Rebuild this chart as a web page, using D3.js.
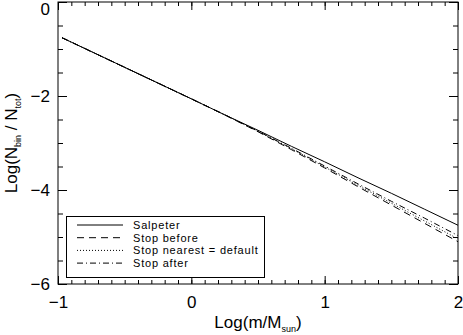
<!DOCTYPE html>
<html>
<head>
<meta charset="utf-8">
<script src="https://cdn.jsdelivr.net/npm/d3@7"></script>
<style>
  body { margin: 0; background: #fff; }
  svg { display: block; font-family: "Liberation Sans", Helvetica, Arial, sans-serif; }
</style>
</head>
<body>
<svg width="463" height="335"></svg>
<script>
const svg = d3.select("svg");

// log mass values (x) and log(Nbin/Ntot) for each run
const logMass     = [-0.97, -0.5, 0, 0.25, 0.5, 0.75, 1, 1.25, 1.5, 1.75, 2];
const salpeter    = [-0.76, -1.39, -2.06, -2.40, -2.73, -3.07, -3.40, -3.74, -4.07, -4.41, -4.75];
const stopBefore  = [-0.76, -1.39, -2.06, -2.40, -2.76, -3.14, -3.53, -3.93, -4.32, -4.71, -5.10];
const stopNearest = [-0.76, -1.39, -2.06, -2.40, -2.75, -3.12, -3.51, -3.90, -4.28, -4.66, -5.04];
const stopAfter   = [-0.76, -1.39, -2.06, -2.40, -2.75, -3.11, -3.49, -3.87, -4.24, -4.60, -4.97];

const seriesNames = ["Salpeter", "Stop before", "Stop nearest = default", "Stop after"];
const seriesDash = ["none", "7,5", "1,2", "6,3,1,3"];
const seriesValues = [salpeter, stopBefore, stopNearest, stopAfter];

const xTicks = [-1, 0, 1, 2];
const yTicks = [0, -2, -4, -6];

const plotL = 58, plotR = 458, plotT = 2, plotB = 284;

const x = d3.scaleLinear().domain([-1, 2]).range([plotL, plotR]);
const y = d3.scaleLinear().domain([-6, 0]).range([plotB, plotT]);

const fmt = d => d < 0 ? "\u2212" + Math.abs(d) : String(d);
const xMinor = d3.range(-10, 21).map(d => d / 10);
const yMinor = d3.range(-12, 1).map(d => d / 2);

function styleAxis(g) {
    g.select(".domain").remove();
    g.selectAll("line").attr("stroke", "#000");
    g.selectAll("text").style("font-size", "17px").attr("fill", "#000");
}

// minor ticks, all four sides, pointing inward
svg.append("g").attr("transform", `translate(0,${plotB})`)
    .call(d3.axisBottom(x).tickValues(xMinor).tickSize(-4).tickFormat(""))
    .call(styleAxis);
svg.append("g").attr("transform", `translate(0,${plotT})`)
    .call(d3.axisTop(x).tickValues(xMinor).tickSize(-4).tickFormat(""))
    .call(styleAxis);
svg.append("g").attr("transform", `translate(${plotL},0)`)
    .call(d3.axisLeft(y).tickValues(yMinor).tickSize(-5).tickFormat(""))
    .call(styleAxis);
svg.append("g").attr("transform", `translate(${plotR},0)`)
    .call(d3.axisRight(y).tickValues(yMinor).tickSize(-5).tickFormat(""))
    .call(styleAxis);

// major ticks with labels
svg.append("g").attr("transform", `translate(0,${plotB})`)
    .call(d3.axisBottom(x).tickValues(xTicks).tickSize(-8).tickPadding(12).tickFormat(fmt))
    .call(styleAxis);
svg.append("g").attr("transform", `translate(0,${plotT})`)
    .call(d3.axisTop(x).tickValues(xTicks).tickSize(-8).tickFormat(""))
    .call(styleAxis);
const yAxisG = svg.append("g").attr("transform", `translate(${plotL},0)`)
    .call(d3.axisLeft(y).tickValues(yTicks).tickSize(-9).tickPadding(8).tickFormat(fmt))
    .call(styleAxis);
// keep the top label inside the picture
yAxisG.selectAll("text").filter(d => d === 0).attr("dy", "0.72em").attr("y", 0);
svg.append("g").attr("transform", `translate(${plotR},0)`)
    .call(d3.axisRight(y).tickValues(yTicks).tickSize(-9).tickFormat(""))
    .call(styleAxis);

svg.append("rect")
    .attr("x", plotL).attr("y", plotT)
    .attr("width", plotR - plotL).attr("height", plotB - plotT)
    .attr("fill", "none").attr("stroke", "#000").attr("stroke-width", 1);

const line = d3.line().x((d, i) => x(logMass[i])).y(d => y(d));

svg.selectAll(".series")
    .data(seriesValues)
    .join("path")
    .attr("class", "series")
    .attr("d", d => line(d))
    .attr("fill", "none")
    .attr("stroke", "#000")
    .attr("stroke-width", 1)
    .attr("stroke-dasharray", (d, i) => seriesDash[i]);

// legend
const legend = svg.append("g");
legend.append("rect")
    .attr("x", 66.5).attr("y", 216.5).attr("width", 198).attr("height", 61)
    .attr("fill", "#fff").attr("stroke", "#000");
const rows = legend.selectAll(".row")
    .data(seriesNames)
    .join("g")
    .attr("class", "row")
    .attr("transform", (d, i) => `translate(0,${225 + i * 12.7})`);
rows.append("line")
    .attr("x1", 77).attr("x2", 123)
    .attr("stroke", "#000")
    .attr("stroke-dasharray", (d, i) => seriesDash[i]);
rows.append("text")
    .attr("x", 133).attr("dy", "0.35em")
    .style("font-size", "11px")
    .style("letter-spacing", "0.8px")
    .text(d => d);

// axis titles
const xt = svg.append("text")
    .attr("x", (plotL + plotR) / 2).attr("y", 328)
    .attr("text-anchor", "middle").style("font-size", "17px");
xt.append("tspan").text("Log(m/M");
xt.append("tspan").attr("dy", 4).style("font-size", "9px").text("sun");
xt.append("tspan").attr("dy", -4).text(")");

const yt = svg.append("text")
    .attr("transform", `translate(17,${(plotT + plotB) / 2}) rotate(-90)`)
    .attr("text-anchor", "middle").style("font-size", "17px");
yt.append("tspan").text("Log(N");
yt.append("tspan").attr("dy", 4).style("font-size", "9px").text("bin");
yt.append("tspan").attr("dy", -4).text(" / N");
yt.append("tspan").attr("dy", 4).style("font-size", "9px").text("tot");
yt.append("tspan").attr("dy", -4).text(")");
</script>
</body>
</html>
